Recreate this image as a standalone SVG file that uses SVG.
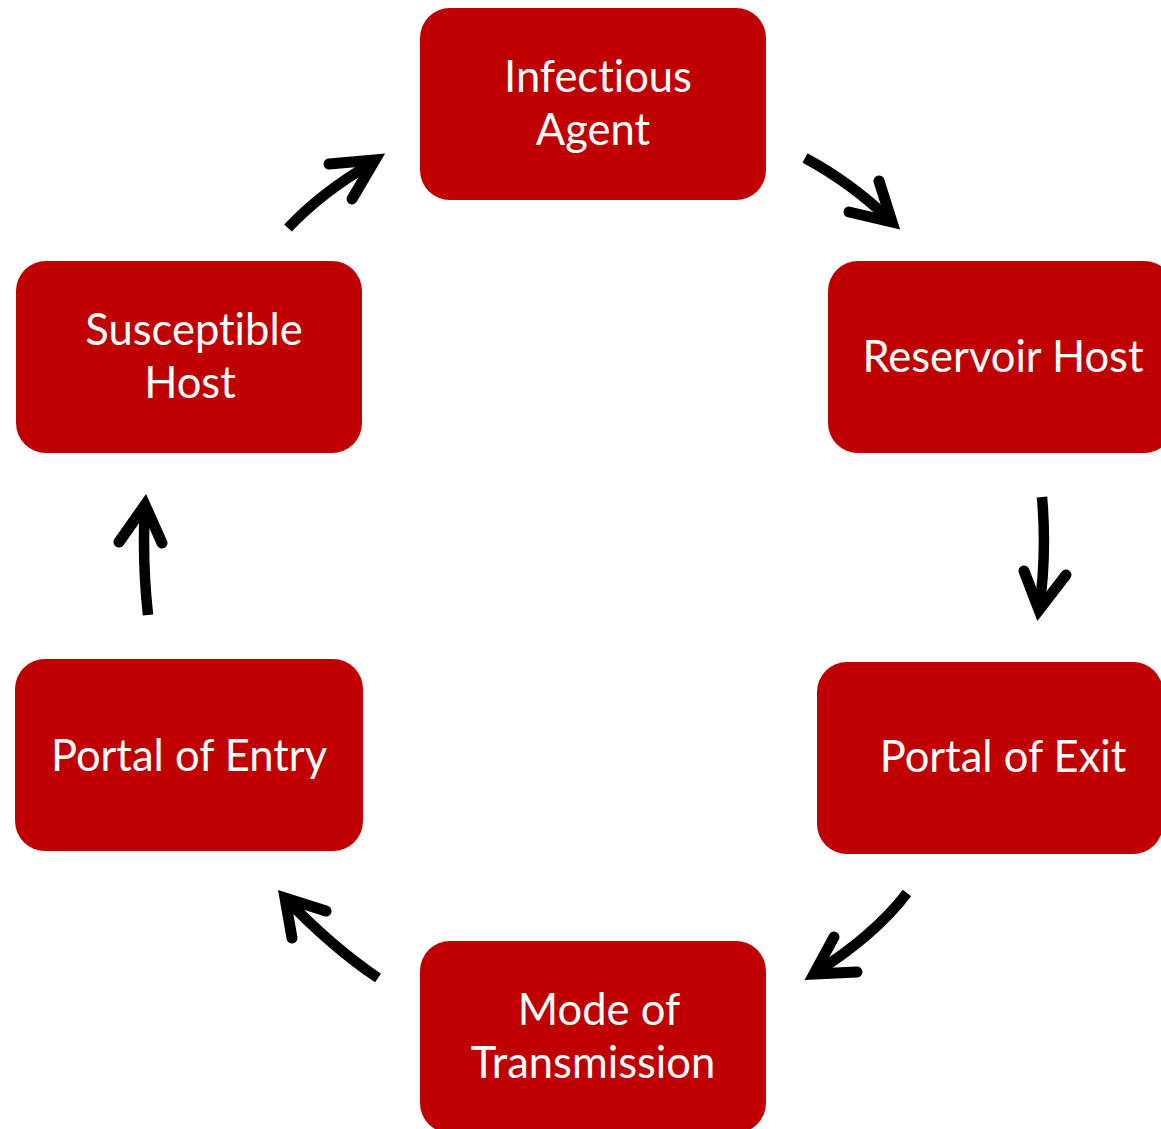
<svg xmlns="http://www.w3.org/2000/svg" width="1161" height="1129" viewBox="0 0 1161 1129">
<style>
.box{fill:#C00000}
.lbl{font-family:Lato,"Open Sans","Liberation Sans",sans-serif;font-size:43.5px;fill:#fff;text-anchor:middle;font-variant-ligatures:none}
.sh{fill:none;stroke:#000;stroke-width:10.5;stroke-linecap:butt}
.hd{fill:none;stroke:#000;stroke-width:11;stroke-linecap:round;stroke-linejoin:miter;stroke-miterlimit:10}
</style>
<rect width="1161" height="1129" fill="#fff"/>
<g id="infectious-agent"><rect class="box" x="420" y="8" width="346" height="192" rx="30"/><text class="lbl" x="598" y="92">Infectious</text><text class="lbl" x="593" y="145">Agent</text></g>
<g id="reservoir-host"><rect class="box" x="828" y="261" width="346" height="192" rx="30"/><text class="lbl" x="1003" y="372">Reservoir Host</text></g>
<g id="portal-of-exit"><rect class="box" x="817" y="662" width="346" height="192" rx="30"/><text class="lbl" x="1003" y="772">Portal of Exit</text></g>
<g id="mode-of-transmission"><rect class="box" x="420" y="941" width="346" height="192" rx="30"/><text class="lbl" x="599" y="1025">Mode of</text><text class="lbl" x="593" y="1078">Transmission</text></g>
<g id="portal-of-entry"><rect class="box" x="15" y="659" width="348" height="192" rx="30"/><text class="lbl" x="189" y="771">Portal of Entry</text></g>
<g id="susceptible-host"><rect class="box" x="16" y="261" width="346" height="192" rx="30"/><text class="lbl" x="194" y="345">Susceptible</text><text class="lbl" x="190" y="398">Host</text></g>
<g id="connectors">
<path class="sh" d="M288,228 Q322,192 372,163"/><polyline class="hd" points="329,164 375,160 352,199"/>
<path class="sh" d="M805,158 Q850,182 890,220"/><polyline class="hd" points="879,181 892,222 849,212"/>
<path class="sh" d="M1042,497 Q1047,555 1039,610"/><polyline class="hd" points="1024,571 1039,610 1066,575"/>
<path class="sh" d="M907,893 Q875,935 815,973"/><polyline class="hd" points="834,937 814,974 857,972"/>
<path class="sh" d="M378,978 Q332,947 285,898"/><polyline class="hd" points="326,911 285,898 292,938"/>
<path class="sh" d="M148,615 Q142,560 145,505"/><polyline class="hd" points="119,542 145,505 162,543"/>
</g>
</svg>
